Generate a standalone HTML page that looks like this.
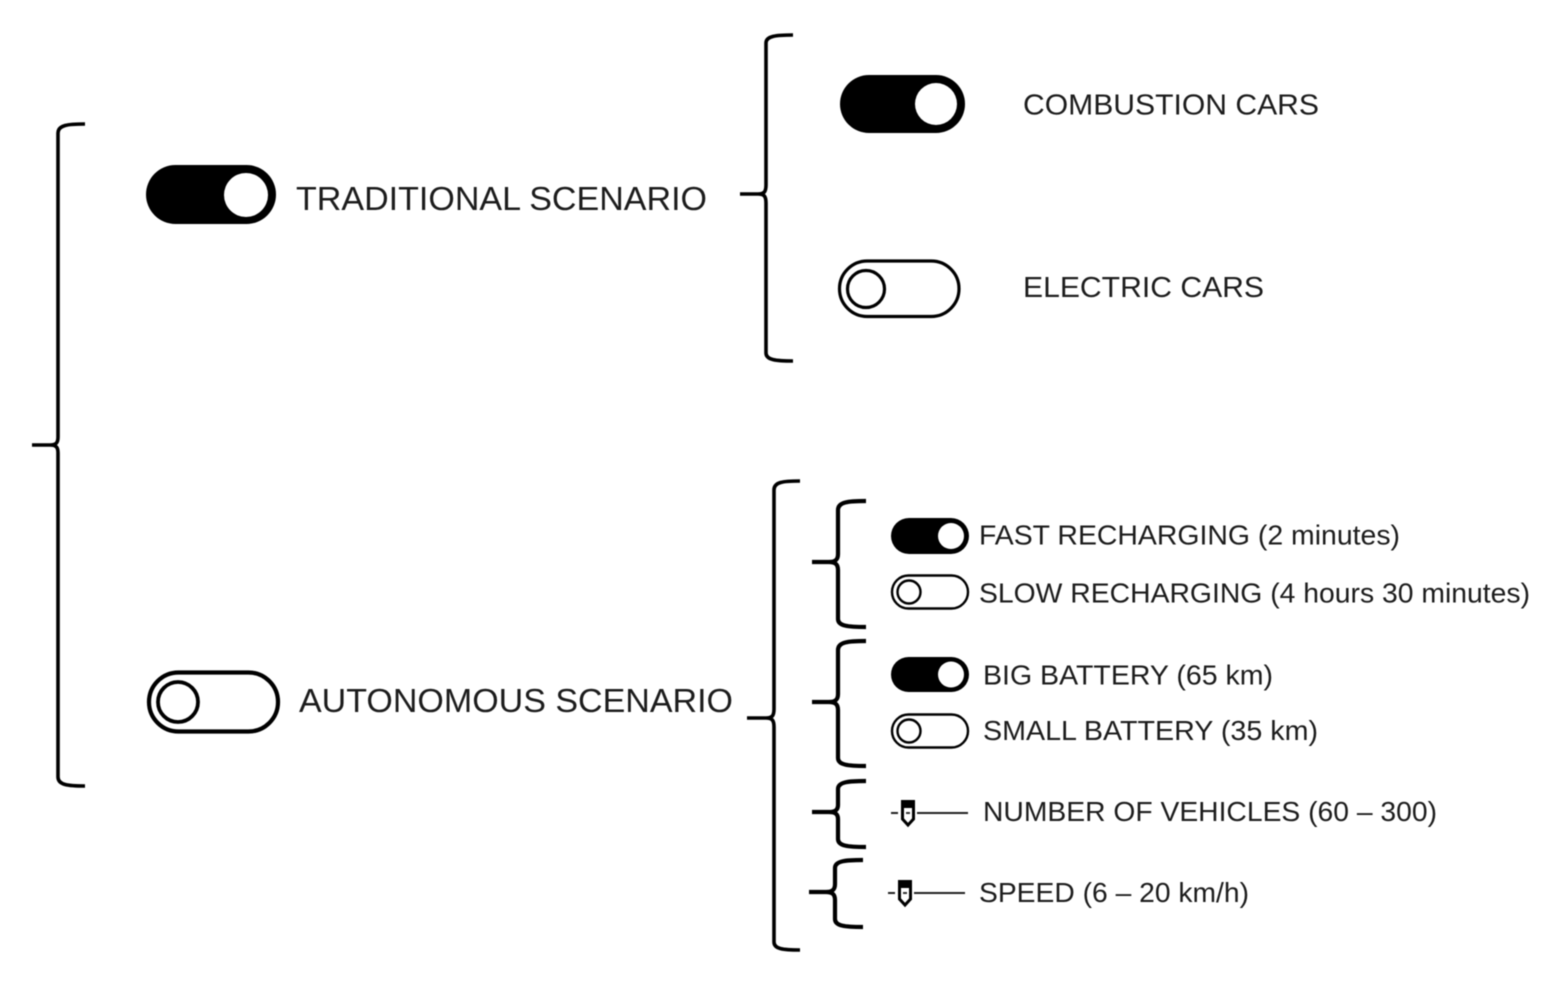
<!DOCTYPE html>
<html><head><meta charset="utf-8"><style>
html,body{margin:0;padding:0;background:#fff}
svg{display:block;filter:blur(0.5px)}
text{font-family:"Liberation Sans",sans-serif;fill:#1c1c1c}
.b{fill:none;stroke:#000;stroke-width:3.6;stroke-linecap:butt}
.t{fill:none;stroke:#000;stroke-width:4.200;stroke-linecap:butt}
</style></head><body>
<svg width="1543" height="984" viewBox="0 0 1543 984" xmlns="http://www.w3.org/2000/svg">
<rect width="1543" height="984" fill="#fff"/>
<!-- braces -->
<path class="b" d="M85 124C68 124 58 125 58 133L58 437C58 443 56 445 50 445L32 445M50 445C56 445 58 447 58 453L58 777C58 785 68 786 85 786"/>
<path class="b" d="M793 35C776 35 766 36 766 43L766 185C766 192 764 194 758 194L740 194M758 194C764 194 766 196 766 203L766 353C766 360 776 361 793 361"/>
<path class="b" d="M800 481C783 481 774 482 774 490L774 709C774 716 772 718 766 718L747 718M766 718C772 718 774 720 774 727L774 942C774 949 783 950 800 950"/>
<path class="t" d="M866 501C848 501 838 502 838 510L838 554C838 560 835 562 829 562L812 562M829 562C835 562 838 564 838 570L838 619C838 626 848 627 866 627"/>
<path class="t" d="M866 641C848 641 838 642 838 650L838 694C838 700 835 702 829 702L812 702M829 702C835 702 838 704 838 710L838 758C838 765 848 766 866 766"/>
<path class="t" d="M866 781C848 781 838 782 838 789L838 805C838 810 835 812 829 812L812 812M829 812C835 812 838 814 838 819L838 839C838 846 848 847 866 847"/>
<path class="t" d="M863 860C845 860 835 861 835 868L835 884C835 890 832 892 826 892L809 892M826 892C832 892 835 894 835 900L835 919C835 926 845 927 863 927"/>
<!-- large on toggles -->
<rect x="840" y="75" width="125" height="58" rx="29" fill="#000"/>
<circle cx="936" cy="104" r="21" fill="#fff"/>
<rect x="146" y="165" width="130" height="59" rx="29.5" fill="#000"/>
<circle cx="246" cy="195" r="22" fill="#fff"/>
<!-- large off toggles -->
<rect x="839.5" y="261" width="119.5" height="55.5" rx="27.7" fill="#fff" stroke="#000" stroke-width="3.200"/>
<circle cx="866" cy="289" r="18.500" fill="#fff" stroke="#000" stroke-width="3.200"/>
<rect x="149" y="672.500" width="129" height="59" rx="29.500" fill="#fff" stroke="#000" stroke-width="4.200"/>
<circle cx="178" cy="702" r="20" fill="#fff" stroke="#000" stroke-width="3.800"/>
<!-- small toggles -->
<rect x="891" y="518" width="78" height="36" rx="18" fill="#000"/>
<circle cx="951" cy="536" r="13" fill="#fff"/>
<rect x="892" y="575.500" width="76" height="33" rx="16.500" fill="#fff" stroke="#000" stroke-width="2.400"/>
<circle cx="909" cy="592" r="11.500" fill="#fff" stroke="#000" stroke-width="2.400"/>
<rect x="891" y="657" width="78" height="35" rx="17.500" fill="#000"/>
<circle cx="951" cy="674.500" r="13" fill="#fff"/>
<rect x="892" y="714.500" width="76" height="33" rx="16.500" fill="#fff" stroke="#000" stroke-width="2.400"/>
<circle cx="909" cy="731" r="11.500" fill="#fff" stroke="#000" stroke-width="2.400"/>
<!-- sliders -->
<g>
<path d="M891 813H898M917 813H968" stroke="#222" stroke-width="2" fill="none"/>
<path d="M902.500 801.500H913.500V819L908 825L902.500 819Z" fill="#fff" stroke="#000" stroke-width="3"/>
<rect x="901" y="800" width="14" height="8" fill="#000"/>
<rect x="906" y="812" width="4" height="2" fill="#333"/>
</g>
<g transform="translate(-3 80)">
<path d="M891 813H898M917 813H968" stroke="#222" stroke-width="2" fill="none"/>
<path d="M902.500 801.500H913.500V819L908 825L902.500 819Z" fill="#fff" stroke="#000" stroke-width="3"/>
<rect x="901" y="800" width="14" height="8" fill="#000"/>
<rect x="906" y="812" width="4" height="2" fill="#333"/>
</g>
<!-- labels -->
<text x="296" y="210" font-size="33" textLength="411" lengthAdjust="spacingAndGlyphs">TRADITIONAL SCENARIO</text>
<text x="299" y="712" font-size="33" textLength="434" lengthAdjust="spacingAndGlyphs">AUTONOMOUS SCENARIO</text>
<text x="1023" y="114.500" font-size="29" textLength="296" lengthAdjust="spacingAndGlyphs">COMBUSTION CARS</text>
<text x="1023" y="297" font-size="29" textLength="241" lengthAdjust="spacingAndGlyphs">ELECTRIC CARS</text>
<text x="979" y="544.500" font-size="28" textLength="421" lengthAdjust="spacingAndGlyphs">FAST RECHARGING (2 minutes)</text>
<text x="979" y="602.500" font-size="28" textLength="551" lengthAdjust="spacingAndGlyphs">SLOW RECHARGING (4 hours 30 minutes)</text>
<text x="983" y="684.500" font-size="28" textLength="290" lengthAdjust="spacingAndGlyphs">BIG BATTERY (65 km)</text>
<text x="983" y="740" font-size="28" textLength="335" lengthAdjust="spacingAndGlyphs">SMALL BATTERY (35 km)</text>
<text x="983" y="821" font-size="28" textLength="454" lengthAdjust="spacingAndGlyphs">NUMBER OF VEHICLES (60 – 300)</text>
<text x="979" y="902" font-size="28" textLength="270" lengthAdjust="spacingAndGlyphs">SPEED (6 – 20 km/h)</text>
</svg>
</body></html>
